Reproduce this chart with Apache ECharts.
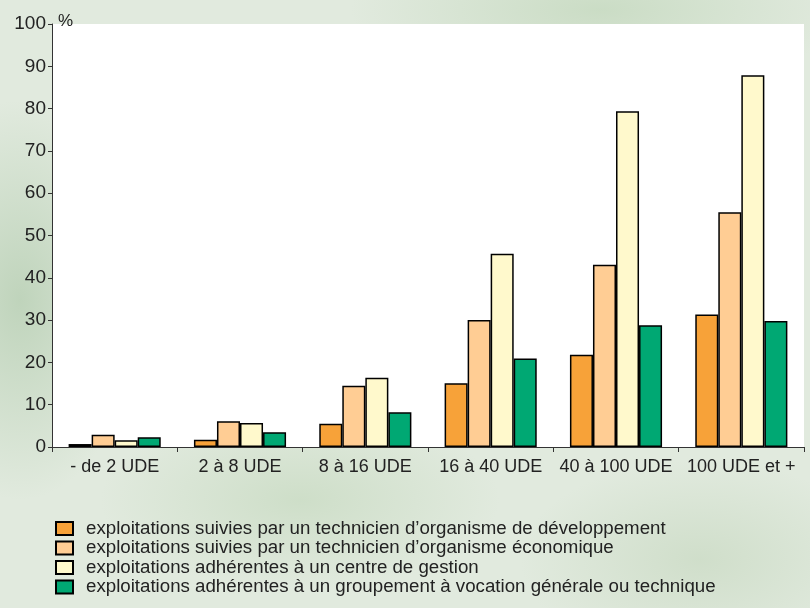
<!DOCTYPE html>
<html>
<head>
<meta charset="utf-8">
<script src="https://cdn.jsdelivr.net/npm/echarts@6/dist/echarts.min.js"></script>
<style>
html,body{margin:0;padding:0;}
body{
  width:810px;height:608px;overflow:hidden;
  background:
    radial-gradient(ellipse 120px 200px at 20px 300px, rgba(150,185,145,0.45), rgba(150,185,145,0) 100%),
    radial-gradient(ellipse 200px 90px at 300px 500px, rgba(170,200,160,0.35), rgba(170,200,160,0) 100%),
    radial-gradient(ellipse 250px 80px at 600px 10px, rgba(160,195,150,0.35), rgba(160,195,150,0) 100%),
    radial-gradient(ellipse 180px 100px at 700px 560px, rgba(175,200,165,0.35), rgba(175,200,165,0) 100%),
    #e1eade;
}
#chart{width:810px;height:608px;}
</style>
</head>
<body>
<div id="chart"></div>
<script>
var categories = ['- de 2 UDE', '2 à 8 UDE', '8 à 16 UDE', '16 à 40 UDE', '40 à 100 UDE', '100 UDE et +'];
var seriesNames = [
  'exploitations suivies par un technicien d\u2019organisme de développement',
  'exploitations suivies par un technicien d\u2019organisme économique',
  'exploitations adhérentes à un centre de gestion',
  'exploitations adhérentes à un groupement à vocation générale ou technique'
];
var devValues = [0.7, 1.7, 5.5, 15.1, 21.8, 31.3];
var ecoValues = [2.9, 6.1, 14.5, 30.0, 43.1, 55.5];
var gestionValues = [1.6, 5.7, 16.4, 45.7, 79.4, 87.9];
var groupValues = [2.3, 3.5, 8.2, 20.9, 28.8, 29.8];
var yTicks = [0, 10, 20, 30, 40, 50, 60, 70, 80, 90, 100];

var colors = ['#F7A239', '#FFCD94', '#FFF9CC', '#00A873'];
var allValues = [devValues, ecoValues, gestionValues, groupValues];

var chart = echarts.init(document.getElementById('chart'));
var series = allValues.map(function (vals, i) {
  return {
    name: seriesNames[i],
    type: 'bar',
    data: vals,
    barGap: '0%',
    barCategoryGap: '26.5%',
    itemStyle: { color: colors[i], borderColor: '#000', borderWidth: 1.5 },
    emphasis: { disabled: true }
  };
});

chart.setOption({
  animation: false,
  textStyle: { fontFamily: 'Liberation Sans, Arial, sans-serif' },
  grid: {
    left: 52, right: 6, top: 24, bottom: 161,
    show: true, backgroundColor: '#ffffff', borderWidth: 0
  },
  legend: {
    orient: 'vertical',
    left: 55,
    top: 519,
    height: 89,
    padding: 0,
    itemWidth: 17,
    itemHeight: 13,
    itemGap: 0.5,
    icon: 'rect',
    textStyle: { fontSize: 18.7, color: '#222', lineHeight: 18, padding: [0, 0, 0, 8] },
    data: seriesNames
  },
  xAxis: {
    type: 'category',
    data: categories,
    axisLine: { lineStyle: { color: '#333', width: 1 } },
    axisTick: { show: true, length: 5, lineStyle: { color: '#333' } },
    axisLabel: { fontSize: 18, color: '#222', margin: 11, interval: 0 },
    splitLine: { show: false }
  },
  yAxis: {
    type: 'value',
    min: yTicks[0],
    max: yTicks[yTicks.length - 1],
    interval: 10,
    name: '%',
    nameLocation: 'end',
    nameGap: -6,
    nameTextStyle: { fontSize: 17, color: '#222', align: 'left', padding: [0, 0, 0, 6] },
    axisLine: { show: true, lineStyle: { color: '#333', width: 1 } },
    axisTick: { show: true, length: 4, lineStyle: { color: '#333' } },
    axisLabel: { fontSize: 19, color: '#222', margin: 6 },
    splitLine: { show: false }
  },
  series: series
});
</script>
</body>
</html>
